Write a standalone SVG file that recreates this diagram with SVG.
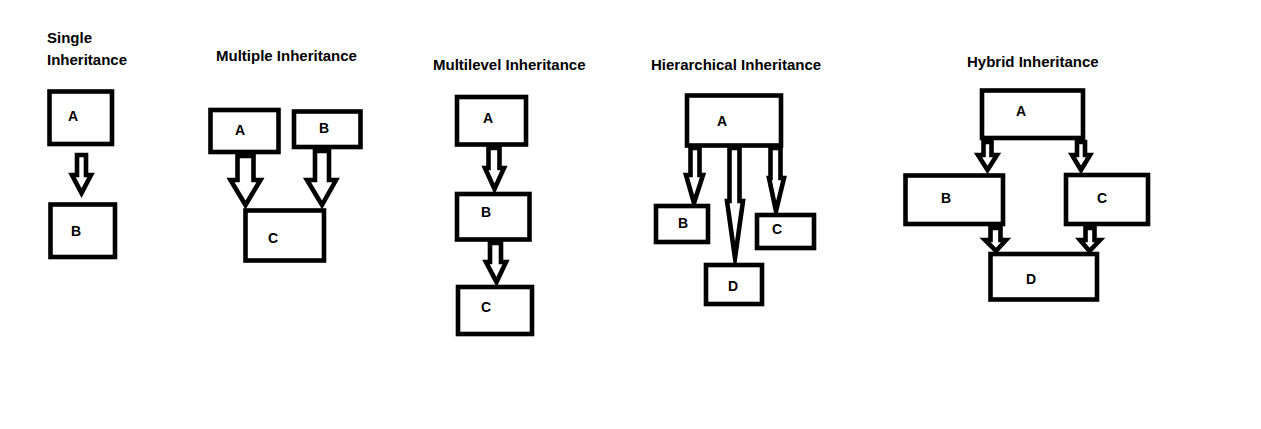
<svg xmlns="http://www.w3.org/2000/svg" width="1261" height="429" viewBox="0 0 1261 429">
<style>
.box{fill:#fff;stroke:#000;stroke-width:4.6}
.arr{fill:#fff;stroke:#000;stroke-width:4.6;stroke-linejoin:miter;stroke-miterlimit:10}
.t{font-family:"Liberation Sans",Arial,sans-serif;font-weight:bold;font-size:15px;fill:#000}
.l{font-family:"Liberation Sans",Arial,sans-serif;font-weight:bold;font-size:14px;fill:#000}
</style>
<rect width="1261" height="429" fill="#fff"/>
<g id="titles">
<text class="t" x="47" y="43">Single</text>
<text class="t" x="47" y="65">Inheritance</text>
<text class="t" x="216" y="61">Multiple Inheritance</text>
<text class="t" x="433" y="70">Multilevel Inheritance</text>
<text class="t" x="651" y="70">Hierarchical Inheritance</text>
<text class="t" x="967" y="67">Hybrid Inheritance</text>
</g>
<g id="connectors">
<polygon class="arr" points="77,155 86,155 86,175 91,175 81.5,193 72,175 77,175"/>
<polygon class="arr" points="237.5,156 253.5,156 253.5,180 260.5,180 245.5,205 230.5,180 237.5,180"/>
<polygon class="arr" points="315,151 329,151 329,180 336,180 322,205 307,180 315,180"/>
<polygon class="arr" points="488.5,148 499.5,148 499.5,168 504,168 494.5,189 485,168 488.5,168"/>
<polygon class="arr" points="490,243 501,243 501,262 506,262 496.5,282 486,262 490,262"/>
<polygon class="arr" points="690.5,148 699.5,148 699.5,175 703,175 694,203 686,175 690.5,175"/>
<polygon class="arr" points="729.5,148 739.5,148 739.5,201 743,201 735,258 727,201 729.5,201"/>
<polygon class="arr" points="770.5,148 780.5,148 780.5,178 784,178 776,211 769,178 770.5,178"/>
<polygon class="arr" points="983.5,142 991.5,142 991.5,155 997,155 987.5,170 978,155 983.5,155"/>
<polygon class="arr" points="1077,142 1085,142 1085,155 1090,155 1081,170 1072,155 1077,155"/>
<polygon class="arr" points="990.5,228 1000.5,228 1000.5,240 1006,240 996,251 985,240 990.5,240"/>
<polygon class="arr" points="1085.5,228 1094.5,228 1094.5,240 1100,240 1089.5,251 1080,240 1085.5,240"/>
</g>
<g id="single-A"><rect class="box" x="49.5" y="91.5" width="62.5" height="52.5"/><text class="l" x="68" y="121">A</text></g>
<g id="single-B"><rect class="box" x="50.5" y="204.5" width="64.5" height="52.5"/><text class="l" x="71" y="236">B</text></g>
<g id="multiple-A"><rect class="box" x="210.5" y="110" width="68" height="42"/><text class="l" x="235" y="135">A</text></g>
<g id="multiple-B"><rect class="box" x="294" y="111.5" width="66.5" height="35.5"/><text class="l" x="319" y="133">B</text></g>
<g id="multiple-C"><rect class="box" x="245.5" y="210.5" width="78.5" height="50"/><text class="l" x="268" y="243">C</text></g>
<g id="multilevel-A"><rect class="box" x="457" y="97" width="69" height="47.5"/><text class="l" x="483" y="123">A</text></g>
<g id="multilevel-B"><rect class="box" x="457" y="194" width="72.5" height="45.5"/><text class="l" x="481" y="217">B</text></g>
<g id="multilevel-C"><rect class="box" x="458" y="287" width="74" height="47"/><text class="l" x="481" y="312">C</text></g>
<g id="hier-A"><rect class="box" x="687" y="95.5" width="94" height="50"/><text class="l" x="717" y="126">A</text></g>
<g id="hier-B"><rect class="box" x="656" y="206" width="52" height="36"/><text class="l" x="678" y="228">B</text></g>
<g id="hier-C"><rect class="box" x="757" y="215" width="57" height="33"/><text class="l" x="772" y="234">C</text></g>
<g id="hier-D"><rect class="box" x="706" y="265" width="56" height="39"/><text class="l" x="728" y="291">D</text></g>
<g id="hybrid-A"><rect class="box" x="982" y="90.5" width="101" height="47.5"/><text class="l" x="1016" y="116">A</text></g>
<g id="hybrid-B"><rect class="box" x="905.5" y="175.5" width="97.5" height="48.5"/><text class="l" x="941" y="203">B</text></g>
<g id="hybrid-C"><rect class="box" x="1066" y="175" width="82" height="49"/><text class="l" x="1097" y="203">C</text></g>
<g id="hybrid-D"><rect class="box" x="990.5" y="254" width="106.5" height="45.5"/><text class="l" x="1026" y="284">D</text></g>
</svg>
